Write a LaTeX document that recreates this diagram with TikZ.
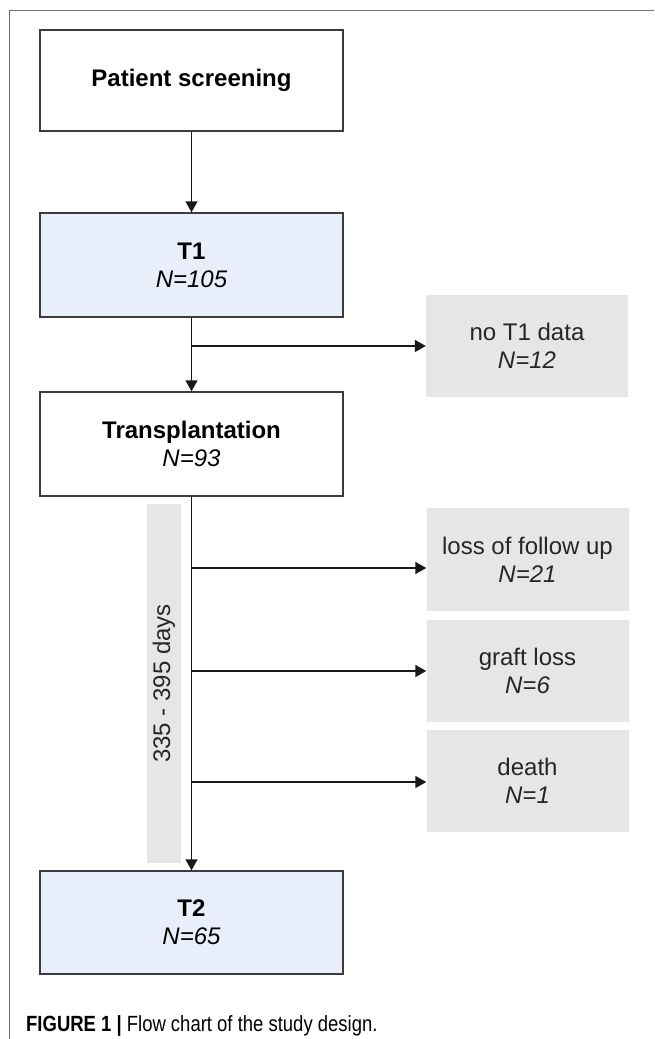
\documentclass[tikz,border=0pt]{standalone}
\usepackage{fontspec}
\setmainfont{Liberation Sans}
\newfontfamily\capfont{Liberation Sans}[FakeStretch=0.84]
\usetikzlibrary{arrows.meta}
\definecolor{boxline}{HTML}{3C3C3C}
\definecolor{bluefill}{HTML}{E8EFFA}
\definecolor{grayfill}{HTML}{E6E6E6}
\definecolor{framecol}{HTML}{707070}
\tikzset{
  mainbox/.style={draw=boxline, line width=1.4pt, minimum width=303pt, inner sep=0pt, align=center, font=\fontsize{24}{28}\selectfont},
  bluebox/.style={mainbox, fill=bluefill},
  sidebox/.style={fill=grayfill, minimum width=202pt, minimum height=102pt, inner sep=0pt, align=center, font=\fontsize{24}{28}\selectfont},
  flow/.style={line width=1.4pt, draw=black!90, -{Triangle[length=11pt,width=12pt]}},
  framel/.style={line width=1pt, draw=framecol}
}
\begin{document}
\begin{tikzpicture}[x=1pt,y=-1pt]
\useasboundingbox (0,0) rectangle (654,1039);
% frame
\coordinate (fb) at (9.5,1039);
\coordinate (fc) at (9.5,10.5);
\coordinate (fr) at (654,10.5);
\draw[framel] (fb) -- (fc) -- (fr);
% duration bar
\node[fill=grayfill, minimum width=34pt, minimum height=359pt, inner sep=0pt] (bar) at (164,683.5) {};
\node[rotate=90, font=\fontsize{24}{28}\selectfont, text=black!85] (barlabel) at (164,683.5) {335 - 395 days};
% main boxes
\node[mainbox, fill=white, minimum height=101pt] (screen) at (191.5,80.5) {\textbf{Patient screening}};
\node[bluebox, minimum height=104pt] (t1) at (191.5,265) {\textbf{T1}\\\textit{N=105}};
\node[mainbox, fill=white, minimum height=104pt] (trans) at (191.5,444) {\textbf{Transplantation}\\\textit{N=93}};
\node[bluebox, minimum height=103pt] (t2) at (191.5,922.5) {\textbf{T2}\\\textit{N=65}};
% side boxes
\node[sidebox, text=black!85] (noT1) at (527,346) {no T1 data\\\textit{N=12}};
\node[sidebox, minimum height=103pt, text=black!85] (loss) at (527.5,559.5) {loss of follow up\\\textit{N=21}};
\node[sidebox, text=black!85] (graft) at (527.5,671) {graft loss\\\textit{N=6}};
\node[sidebox, text=black!85] (death) at (527.5,781) {death\\\textit{N=1}};
% vertical connectors
\draw[flow] (screen.south) -- (t1.north);
\draw[flow] (t1.south) -- (trans.north);
\draw[flow] (trans.south) -- (t2.north);
% branches
\coordinate (b1) at (191.5,346);
\coordinate (b2) at (191.5,568);
\coordinate (b3) at (191.5,671);
\coordinate (b4) at (191.5,782);
\draw[flow] (b1) -- (b1 -| noT1.west);
\draw[flow] (b2) -- (b2 -| loss.west);
\draw[flow] (b3) -- (b3 -| graft.west);
\draw[flow] (b4) -- (b4 -| death.west);
% caption
\node[anchor=base west, inner sep=0pt, font=\capfont\fontsize{22}{24}\selectfont] (caption) at (26,1031) {\textbf{FIGURE 1 |} Flow chart of the study design.};
\end{tikzpicture}
\end{document}
